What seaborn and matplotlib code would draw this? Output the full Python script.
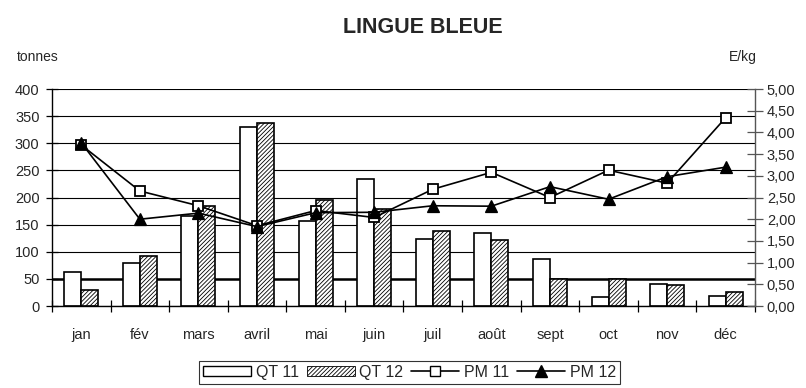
import numpy as np
import pandas as pd
import seaborn as sns
import matplotlib.pyplot as plt
from matplotlib.ticker import FuncFormatter
from matplotlib.patches import Patch
from matplotlib.lines import Line2D

months = ['jan', 'fév', 'mars', 'avril', 'mai', 'juin', 'juil', 'août', 'sept', 'oct', 'nov', 'déc']
qt11 = [63, 80, 166, 330, 157, 234, 123, 134, 86, 17, 40, 19]
qt12 = [30, 93, 185, 337, 195, 178, 138, 122, 50, 50, 38, 26]
pm11 = [3.71, 2.65, 2.31, 1.85, 2.20, 2.04, 2.69, 3.08, 2.50, 3.13, 2.83, 4.34]
pm12 = [3.76, 2.00, 2.14, 1.83, 2.15, 2.16, 2.31, 2.30, 2.75, 2.46, 2.98, 3.20]

sns.set_theme(style='ticks')
plt.rcParams['font.family'] = ['Liberation Sans', 'DejaVu Sans']
plt.rcParams['hatch.linewidth'] = 0.6

df = pd.DataFrame({
    'mois': months * 2,
    'tonnes': qt11 + qt12,
    'serie': ['QT 11'] * 12 + ['QT 12'] * 12,
})

fig = plt.figure(figsize=(8.06, 3.88), dpi=100)
ax = fig.add_axes([0.0645, 0.2113, 0.8722, 0.5593])
ax.set_axisbelow(True)

sns.barplot(data=df, x='mois', y='tonnes', hue='serie', palette=['white', 'white'],
            width=0.58, gap=0, edgecolor='black', linewidth=1.2, saturation=1,
            legend=False, ax=ax)
# second series hatched
for p in ax.patches[12:24]:
    p.set_hatch('////////')

ax.set_ylim(0, 400)
ax.set_yticks(np.arange(0, 401, 50))
ax.yaxis.grid(True, color='black', linewidth=0.8)
ax.axhline(50, color='black', linewidth=1.8, zorder=0.6)
ax.set_xlim(-0.5, 11.5)
ax.set_xticks(range(12))
ax.set_xticklabels(months)
ax.set_xticks(np.arange(-0.5, 12, 1), minor=True)
ax.tick_params(axis='x', which='major', length=0, pad=16, labelsize=10.5)
ax.tick_params(axis='x', which='minor', direction='inout', length=8, width=0.9, color='black')
ax.tick_params(axis='y', direction='inout', length=8, width=0.9, color='black', pad=5, labelsize=10.5)
ax.set_xlabel('')
ax.set_ylabel('')
for s in ['top', 'right']:
    ax.spines[s].set_visible(False)
for s in ['left', 'bottom']:
    ax.spines[s].set_color('black')
    ax.spines[s].set_linewidth(1.0)

ax2 = ax.twinx()
sns.pointplot(x=months, y=pm11, ax=ax2, color='black', errorbar=None,
              marker='s', markersize=7, markerfacecolor='white', markeredgecolor='black',
              markeredgewidth=1.3, linewidth=1.2)
sns.pointplot(x=months, y=pm12, ax=ax2, color='black', errorbar=None,
              marker='^', markersize=8, markerfacecolor='black', markeredgecolor='black',
              linewidth=1.2)
ax2.set_xlim(-0.5, 11.5)
ax2.set_ylim(0, 5)
ax2.set_yticks(np.arange(0, 5.01, 0.5))
ax2.yaxis.set_major_formatter(FuncFormatter(lambda v, _: f'{v:.2f}'.replace('.', ',')))
ax2.tick_params(axis='y', direction='inout', length=11, width=0.9, color='#555555', pad=3, labelsize=10.5)
ax2.set_ylabel('')
for s in ['top', 'left', 'bottom']:
    ax2.spines[s].set_visible(False)
ax2.spines['right'].set_color('#555555')
ax2.spines['right'].set_linewidth(1.0)

fig.text(0.524, 0.928, 'LINGUE BLEUE', ha='center', va='center', fontsize=15.5, fontweight='bold')
fig.text(0.021, 0.853, 'tonnes', ha='left', va='center', fontsize=10)
fig.text(0.939, 0.853, 'E/kg', ha='right', va='center', fontsize=10)

handles = [
    Patch(facecolor='white', edgecolor='black', linewidth=1.0),
    Patch(facecolor='white', edgecolor='black', linewidth=0.6, hatch='////////'),
    Line2D([], [], color='black', linewidth=1.2, marker='s', markersize=7,
           markerfacecolor='white', markeredgecolor='black'),
    Line2D([], [], color='black', linewidth=1.2, marker='^', markersize=8,
           markerfacecolor='black'),
]
leg = fig.legend(handles, ['QT 11', 'QT 12', 'PM 11', 'PM 12'], loc='center',
                 bbox_to_anchor=(0.508, 0.041), ncol=4, frameon=True, fancybox=False,
                 edgecolor='black', handlelength=3.0, handleheight=0.6, handletextpad=0.3,
                 columnspacing=0.5, borderpad=0.25, fontsize=11.5)
leg.get_frame().set_linewidth(0.8)

fig.savefig('out.png', dpi=100)
